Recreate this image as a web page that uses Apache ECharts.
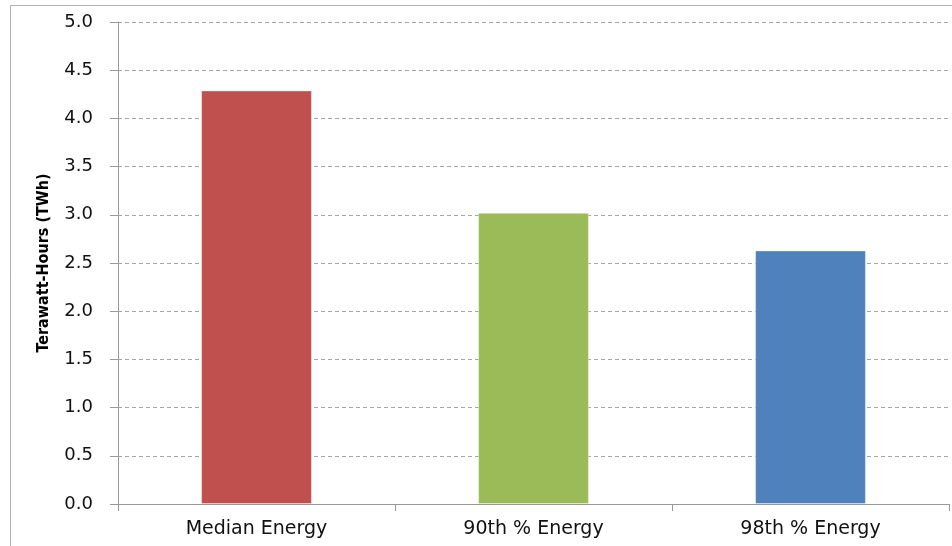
<!DOCTYPE html>
<html>
<head>
<meta charset="utf-8">
<script src="https://cdn.jsdelivr.net/npm/echarts@6/dist/echarts.min.js"></script>
<style>
  html, body { margin: 0; padding: 0; background: #fff; }
  #chart { width: 952px; height: 546px; }
</style>
</head>
<body>
<div id="chart"></div>
<script>
// Energy scenarios and their totals in terawatt-hours
const categories = ['Median Energy', '90th % Energy', '98th % Energy'];
const energyTWh = [4.29, 3.02, 2.63];
const barColors = ['#C0504D', '#9BBB59', '#4F81BD'];
const yAxisTitle = 'Terawatt-Hours (TWh)';

const chart = echarts.init(document.getElementById('chart'));

chart.setOption({
  animation: false,
  backgroundColor: '#ffffff',
  graphic: [{
    type: 'rect',
    silent: true,
    shape: { x: 10.5, y: 5.5, width: 980, height: 600 },
    style: { fill: 'none', stroke: '#b0b0b0', lineWidth: 1 }
  }],
  grid: { left: 118, right: 3, top: 22, bottom: 42, containLabel: false },
  xAxis: {
    type: 'category',
    data: categories,
    axisLine: { lineStyle: { color: '#999999', width: 1 } },
    axisTick: { show: true, alignWithLabel: false, length: 7, lineStyle: { color: '#999999' } },
    axisLabel: {
      color: '#111111',
      fontFamily: 'DejaVu Sans',
      fontSize: 19,
      margin: 16
    }
  },
  yAxis: {
    type: 'value',
    min: 0,
    max: 5,
    interval: 0.5,
    name: yAxisTitle,
    nameLocation: 'middle',
    nameGap: 66,
    nameTextStyle: {
      color: '#000000',
      fontFamily: '"DejaVu Sans Condensed", "Liberation Sans", sans-serif',
      fontWeight: 'bold',
      fontSize: 16
    },
    axisLine: { show: true, lineStyle: { color: '#999999', width: 1 } },
    axisTick: { show: true, length: 8, lineStyle: { color: '#999999' } },
    axisLabel: {
      color: '#111111',
      fontFamily: 'DejaVu Sans',
      fontSize: 18,
      margin: 25,
      formatter: v => v.toFixed(1)
    },
    splitLine: { show: true, lineStyle: { color: '#a6a6a6', type: [4, 3], width: 1 } }
  },
  series: [{
    type: 'bar',
    data: energyTWh.map((v, i) => ({
      value: v,
      itemStyle: { color: barColors[i] }
    })),
    barWidth: '40%',
    itemStyle: { borderColor: 'rgba(255,255,255,0.35)', borderWidth: 1 }
  }]
});
</script>
</body>
</html>
